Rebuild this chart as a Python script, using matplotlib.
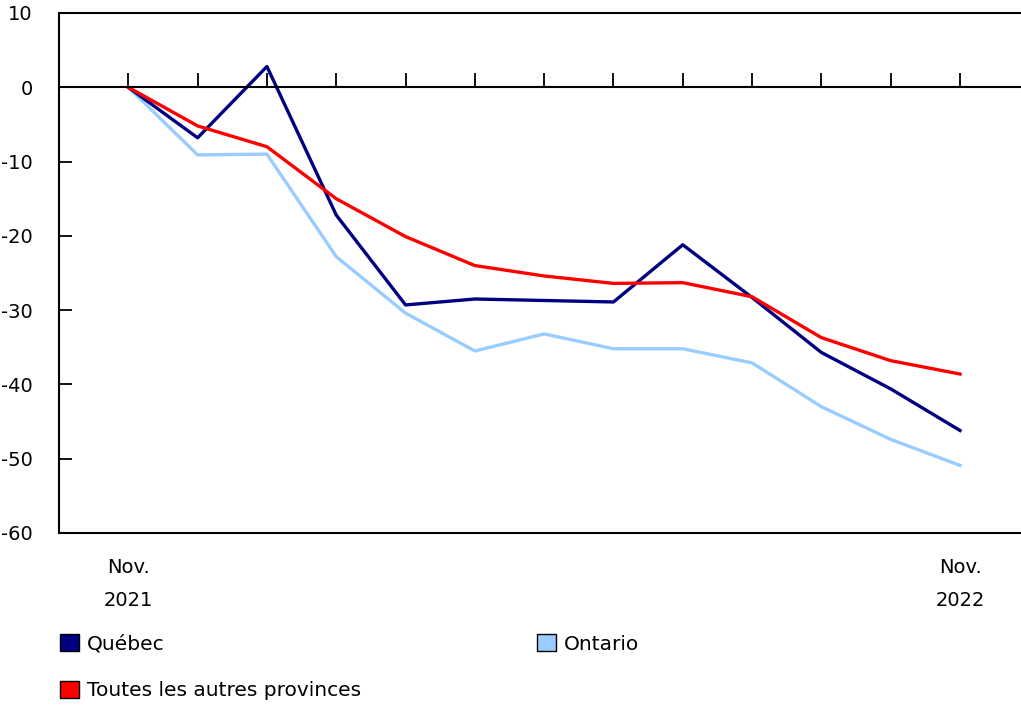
import matplotlib.pyplot as plt
from matplotlib.patches import Patch

months = list(range(13))
x_labels = ["Nov.\n2021", "Nov.\n2022"]

quebec = [0, -6.8, 2.8, -17.2, -29.3, -28.5, -28.7, -28.9, -21.2, -28.3, -35.7, -40.6, -46.2]
ontario = [0, -9.1, -9.0, -22.8, -30.4, -35.5, -33.2, -35.2, -35.2, -37.1, -43.0, -47.4, -50.9]
autres = [0, -5.2, -8.0, -15.0, -20.1, -24.0, -25.4, -26.4, -26.3, -28.2, -33.7, -36.8, -38.6]

NAVY = "#000080"
LIGHT = "#99ccff"
RED = "#ff0000"

plt.rcParams['font.family'] = ['DejaVu Sans']
plt.rcParams['axes.unicode_minus'] = False

fig = plt.figure(figsize=(10.21, 7.05), dpi=100)
ax = fig.add_axes([59 / 1021, 1 - 533 / 705, 1 - 59 / 1021, 520 / 705])

ax.plot(months, ontario, color=LIGHT, lw=2.4)
ax.plot(months, quebec, color=NAVY, lw=2.4)
ax.plot(months, autres, color=RED, lw=2.4)

ax.set_xlim(-1, 12.88)
ax.set_ylim(-60, 10)
ax.set_yticks(range(-60, 11, 10))
ax.tick_params(axis='y', direction='in', length=9, width=1.3, pad=19, labelsize=14)

# bottom spine moved to zero, month ticks pointing up
ax.spines['bottom'].set_position(('data', 0))
ax.set_xticks(months)
ax.tick_params(axis='x', direction='in', length=10, width=1.3, labelbottom=False)
ax.axhline(-60, color='black', lw=1.5, clip_on=False)

for s in ['left', 'top', 'bottom']:
    ax.spines[s].set_linewidth(1.5)
ax.spines['right'].set_visible(False)

for xi, lab in zip([months[0], months[-1]], x_labels):
    ax.text(xi, -63.4, lab, ha='center', va='top', fontsize=14, linespacing=1.9)

handles = [
    Patch(facecolor=NAVY, edgecolor='black', label="Québec"),
    Patch(facecolor=RED, edgecolor='black', label="Toutes les autres provinces"),
    Patch(facecolor=LIGHT, edgecolor='black', label="Ontario"),
]
fig.legend(handles=handles, loc='upper left', bbox_to_anchor=(52 / 1021, 1 - 626 / 705),
           ncol=2, frameon=False, fontsize=14.5, handlelength=0.95, handleheight=0.95,
           handletextpad=0.4, columnspacing=8.7, labelspacing=1.35, borderaxespad=0)

fig.savefig("out.png", dpi=100)
